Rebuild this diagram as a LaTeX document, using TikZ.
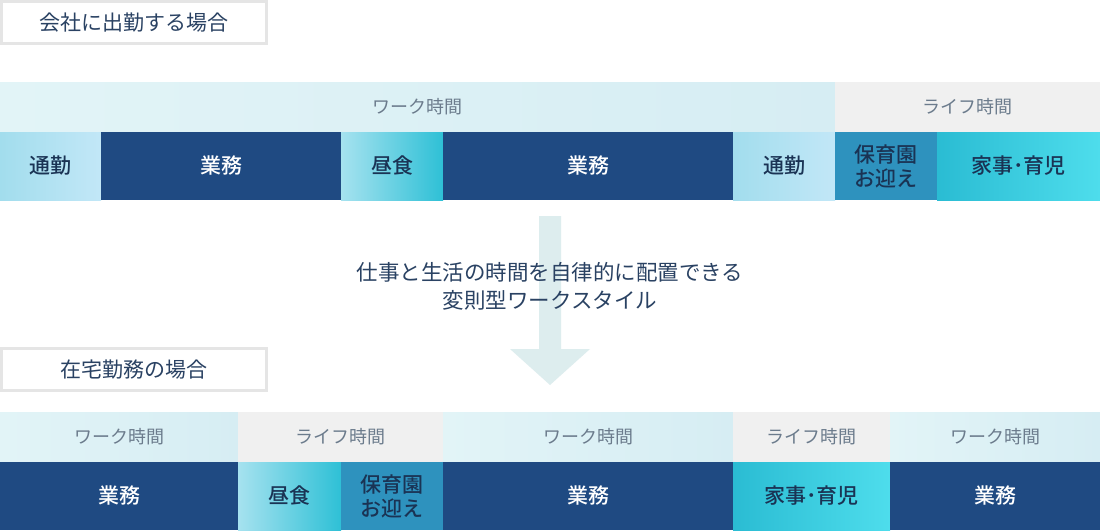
\documentclass[tikz,border=0pt]{standalone}
\usepackage{fontspec}
\setmainfont{Noto Sans CJK JP}
\newfontfamily\medfont{Noto Sans CJK JP Medium}
\begin{document}
\begin{tikzpicture}[x=1pt,y=-1pt,
  base/.style={inner sep=0pt,outer sep=0pt,anchor=center,align=center},
  titlebox/.style={base,draw=black!10,line width=3pt,fill=white,minimum width=265pt,minimum height=42pt,text=navytxt,font=\fontsize{21}{24}\selectfont},
  workhead/.style={base,left color=wkL,right color=wkR,minimum height=50pt,text=greytxt,font=\fontsize{18}{20}\selectfont},
  lifehead/.style={base,fill=lifebg,minimum height=50pt,text=greytxt,font=\fontsize{18}{20}\selectfont},
  cell/.style={base,minimum height=68pt,font=\medfont\fontsize{21}{24}\selectfont},
  gyomu/.style={cell,fill=navy,text=white},
  tsukin/.style={cell,left color=tsL,right color=tsR,text=celltxt},
  chushoku/.style={cell,left color=chL,right color=chR,text=celltxt},
  hoiku/.style={cell,fill=hoiku,text=celltxt},
  kaji/.style={cell,left color=kjL,right color=kjR,text=celltxt},
  midtext/.style={base,text=navytxt,font=\fontsize{21.5}{28}\selectfont}
]
\definecolor{navytxt}{HTML}{2A4263}
\definecolor{celltxt}{HTML}{1A3354}
\definecolor{greytxt}{HTML}{6B7B8C}
\definecolor{wkL}{HTML}{E2F4F7}
\definecolor{wkR}{HTML}{D6EDF3}
\definecolor{lifebg}{HTML}{F0F0F0}
\definecolor{navy}{HTML}{1F4A82}
\definecolor{tsL}{HTML}{A2DDED}
\definecolor{tsR}{HTML}{C2E7F7}
\definecolor{chL}{HTML}{A6E2EF}
\definecolor{chR}{HTML}{2EC0D6}
\definecolor{hoiku}{HTML}{2E92BE}
\definecolor{kjL}{HTML}{2ABCD3}
\definecolor{kjR}{HTML}{4EDDEC}
\definecolor{arrowc}{HTML}{DDEDEE}

\useasboundingbox (0,0) rectangle (1100,530);
\fill[white] (0,0) rectangle (1100,530);

% title 1
\node[titlebox] (t1) at (133.5,22.5) {会社に出勤する場合};

% top header
\node[workhead,minimum width=835pt] (h1) at (417.5,107) {ワーク時間};
\node[lifehead,minimum width=265pt] (h2) at (967.5,107) {ライフ時間};

% top cells
\node[tsukin,minimum width=101pt] (a1) at (50.5,166) {通勤};
\node[gyomu,minimum width=240pt] (a2) at (221,166) {業務};
\node[chushoku,minimum width=102pt] (a3) at (392,166) {昼食};
\node[gyomu,minimum width=290pt] (a4) at (588,166) {業務};
\node[tsukin,minimum width=102pt] (a5) at (784,166) {通勤};
\node[hoiku,minimum width=102pt] (a6) at (886,166) {保育園\\お迎え};
\node[kaji,minimum width=163pt] (a7) at (1018.5,166) {家事･育児};

% arrow
\fill[arrowc] (539,216) -- (561,216) -- (561,349) -- (590,349) -- (550,385) -- (510,349) -- (539,349) -- cycle;
\node[midtext] (m) at (550,286) {仕事と生活の時間を自律的に配置できる\\変則型ワークスタイル};

% title 2
\node[titlebox] (t2) at (133.5,369.5) {在宅勤務の場合};

% bottom header
\node[workhead,minimum width=238pt] (g1) at (119,437) {ワーク時間};
\node[lifehead,minimum width=205pt] (g2) at (340.5,437) {ライフ時間};
\node[workhead,minimum width=290pt] (g3) at (588,437) {ワーク時間};
\node[lifehead,minimum width=157pt] (g4) at (811.5,437) {ライフ時間};
\node[workhead,minimum width=210pt] (g5) at (995,437) {ワーク時間};

% bottom cells
\node[gyomu,minimum width=238pt] (b1) at (119,496) {業務};
\node[chushoku,minimum width=103pt] (b2) at (289.5,496) {昼食};
\node[hoiku,minimum width=102pt] (b3) at (392,496) {保育園\\お迎え};
\node[gyomu,minimum width=290pt] (b4) at (588,496) {業務};
\node[kaji,minimum width=157pt] (b5) at (811.5,496) {家事･育児};
\node[gyomu,minimum width=210pt] (b6) at (995,496) {業務};
\end{tikzpicture}
\end{document}
